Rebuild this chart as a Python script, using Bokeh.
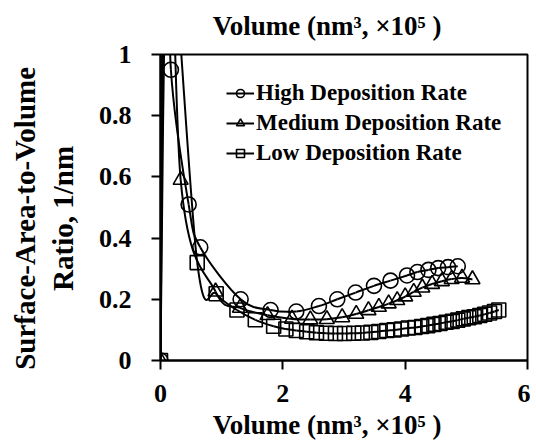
from bokeh.plotting import figure
from bokeh.models import (Range1d, FixedTicker, Legend, LegendItem, LinearAxis,
                          ColumnDataSource, NumeralTickFormatter)
from bokeh.embed import file_html
from bokeh.resources import INLINE

# ---- data (volume in nm^3 x10^5, surface-area-to-volume ratio in 1/nm) ----
high_vol = [0, 0.10, 0.17, 0.46, 0.65, 1.31, 1.80, 2.22, 2.59, 2.89, 3.19, 3.49,
            3.76, 4.03, 4.20, 4.38, 4.54, 4.70, 4.86]
high_ratio = [0, 1.60, 0.95, 0.51, 0.37, 0.200, 0.165, 0.160, 0.178, 0.200, 0.222,
              0.244, 0.261, 0.278, 0.289, 0.296, 0.302, 0.305, 0.308]

medium_vol = [0, 0.10, 0.33, 0.90, 1.30, 1.75, 2.15, 2.45, 2.72, 2.97, 3.20, 3.40,
              3.57, 3.73, 3.87, 4.00, 4.14, 4.28, 4.44, 4.60, 4.76, 4.93, 5.10]
medium_ratio = [0, 2.00, 0.59, 0.225, 0.172, 0.148, 0.136, 0.134, 0.135, 0.141,
                0.152, 0.164, 0.175, 0.186, 0.197, 0.209, 0.224, 0.238, 0.250,
                0.259, 0.266, 0.270, 0.265]

low_vol = [0, 0.10, 0.60, 0.91, 1.25, 1.55, 1.85, 2.05, 2.22, 2.39, 2.55, 2.71,
           2.86, 3.01, 3.16, 3.30, 3.44, 3.57, 3.70, 3.82, 3.94, 4.05, 4.16, 4.27,
           4.37, 4.47, 4.57, 4.67, 4.77, 4.86, 4.95, 5.04, 5.13, 5.22, 5.30, 5.38,
           5.46, 5.53]
low_ratio = [0, 1.50, 0.32, 0.218, 0.165, 0.133, 0.112, 0.103, 0.098, 0.094, 0.091,
             0.089, 0.088, 0.088, 0.089, 0.090, 0.092, 0.095, 0.098, 0.100, 0.103,
             0.106, 0.108, 0.111, 0.114, 0.118, 0.121, 0.125, 0.128, 0.132, 0.136,
             0.140, 0.143, 0.147, 0.151, 0.155, 0.160, 0.165]

x_ticks = [0, 2, 4, 6]
y_ticks = [0, 0.2, 0.4, 0.6, 0.8, 1]

series_labels = ["High Deposition Rate", "Medium Deposition Rate", "Low Deposition Rate"]
x_title = "Volume (nm\u00b3, \u00d710\u2075 )"
y_title_lines = ["Surface-Area-to-Volume", "Ratio, 1/nm"]

FONT = "Liberation Serif"
NBSP = "\u00a0"


def smooth_source(xs, ys):
    """Excel-like smoothed line: cubic Bezier segments (Catmull-Rom control points)."""
    n = len(xs)
    d = dict(x0=[], y0=[], x1=[], y1=[], cx0=[], cy0=[], cx1=[], cy1=[])
    for i in range(n - 1):
        a = i - 1 if i > 0 else i
        b = i + 2 if i + 2 < n else i + 1
        d["x0"].append(xs[i]); d["y0"].append(ys[i])
        d["x1"].append(xs[i + 1]); d["y1"].append(ys[i + 1])
        d["cx0"].append(xs[i] + (xs[i + 1] - xs[a]) / 6.0)
        d["cy0"].append(ys[i] + (ys[i + 1] - ys[a]) / 6.0)
        d["cx1"].append(xs[i + 1] - (xs[b] - xs[i]) / 6.0)
        d["cy1"].append(ys[i + 1] - (ys[b] - ys[i]) / 6.0)
    return ColumnDataSource(d)


p = figure(width=530, height=446, output_backend="svg", toolbar_location=None,
           x_range=Range1d(0, 6), y_range=Range1d(0, 1),
           min_border_left=160, min_border_right=3, min_border_top=54,
           min_border_bottom=86)
p.background_fill_color = "white"
p.border_fill_color = "white"
p.outline_line_color = "black"
p.outline_line_width = 2
p.grid.visible = False

for ax in (p.xaxis[0], p.yaxis[0]):
    ax.axis_line_width = 2
    ax.axis_line_color = "black"
    ax.major_tick_line_width = 2
    ax.major_tick_line_color = "black"
    ax.major_tick_out = 9
    ax.major_tick_in = 0
    ax.minor_tick_line_color = None
    ax.major_label_text_font = FONT
    ax.major_label_text_font_style = "bold"
    ax.major_label_text_font_size = "26px"
    ax.major_label_text_color = "black"

p.xaxis.ticker = FixedTicker(ticks=x_ticks)
p.yaxis.ticker = FixedTicker(ticks=y_ticks)
p.yaxis.formatter = NumeralTickFormatter(format="0.[0]")
p.xaxis.major_label_standoff = 15
p.yaxis.major_label_standoff = 20

# y axis title (two lines), nudged toward the bottom like the reference
p.yaxis.axis_label = "\n".join(line + NBSP * 3 for line in y_title_lines)
p.yaxis.axis_label_text_font = FONT
p.yaxis.axis_label_text_font_style = "bold"
p.yaxis.axis_label_text_font_size = "29px"
p.yaxis.axis_label_text_color = "black"
p.yaxis.axis_label_standoff = 17

# volume title below the x axis (shifted left of the frame centre as in the reference)
p.xaxis.axis_label = x_title + NBSP * 5
p.xaxis.axis_label_text_font = FONT
p.xaxis.axis_label_text_font_style = "bold"
p.xaxis.axis_label_text_font_size = "27px"
p.xaxis.axis_label_text_color = "black"
p.xaxis.axis_label_standoff = 5

# same title repeated on top, on a tick-less axis
top_axis = LinearAxis(ticker=FixedTicker(ticks=[]), axis_line_color=None,
                      major_tick_out=0, major_tick_in=0, major_label_standoff=0,
                      minor_tick_line_color=None,
                      axis_label=x_title + NBSP * 5, axis_label_standoff=14,
                      axis_label_text_font=FONT, axis_label_text_font_style="bold",
                      axis_label_text_font_size="27px", axis_label_text_color="black")
p.add_layout(top_axis, "above")

series = [
    (high_vol, high_ratio, "circle", 15),
    (medium_vol, medium_ratio, "triangle", 15),
    (low_vol, low_ratio, "square", 14),
]
items = []
for (xs, ys, marker, size), label in zip(series, series_labels):
    r_line = p.bezier(x0="x0", y0="y0", x1="x1", y1="y1", cx0="cx0", cy0="cy0",
                      cx1="cx1", cy1="cy1", source=smooth_source(xs, ys),
                      line_color="black", line_width=2)
    r_pts = p.scatter(xs, ys, marker=marker, size=size, line_color="black",
                      line_width=1.6, fill_color=None)
    items.append(LegendItem(label=label, renderers=[r_line, r_pts]))

legend = Legend(items=items, location=(66, 192), border_line_color=None,
                background_fill_alpha=0, padding=0, spacing=0,
                glyph_width=28, glyph_height=20, label_height=30,
                label_standoff=2, label_text_font=FONT,
                label_text_font_style="bold", label_text_font_size="23px",
                label_text_color="black")
p.add_layout(legend)

open("out.html", "w").write(file_html(p, INLINE))
